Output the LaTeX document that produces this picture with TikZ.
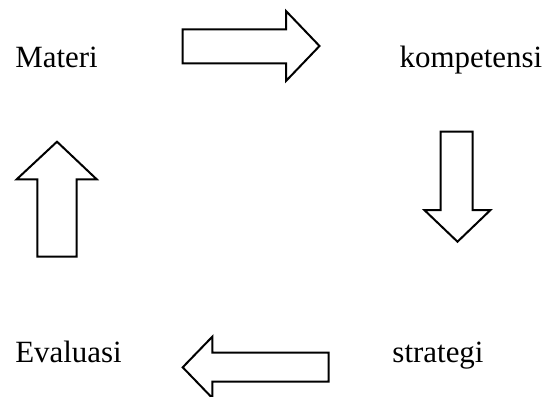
\documentclass[tikz,border=0pt]{standalone}
\usepackage{fontspec}
\setmainfont{Liberation Serif}
\tikzset{
  blockarrow/.style={line width=0.05cm, draw=black, fill=white, line join=miter},
  label/.style={anchor=base west, inner sep=0pt, font=\fontsize{22}{26}\selectfont}
}
\begin{document}
\begin{tikzpicture}[x=0.025cm,y=-0.025cm]
\clip (0,0) rectangle (546,396);
\fill[white] (0,0) rectangle (546,396);

% Drawing labels
\node[label] (materi) at (15,67.7) {Materi};
\node[label] (kompetensi) at (399.3,67.7) {kompetensi};
\node[label] (evaluasi) at (15,362.3) {Evaluasi};
\node[label] (strategi) at (392.2,362.3) {strategi};

% Drawing arrow Materi to kompetensi
\draw[blockarrow] (182.7,29.3) -- (286,29.3) -- (286,11) -- (319.5,46) -- (286,81) -- (286,63.3) -- (182.7,63.3) -- cycle;

% Drawing arrow kompetensi to strategi
\draw[blockarrow] (440.7,131.7) -- (472.7,131.7) -- (472.7,210) -- (490.5,210) -- (457.5,241.7) -- (424.3,210) -- (440.7,210) -- cycle;

% Drawing arrow strategi to Evaluasi
\draw[blockarrow] (328.5,352.7) -- (212.3,352.7) -- (212.3,336.7) -- (182.7,367.3) -- (212.3,398) -- (212.3,381.7) -- (328.5,381.7) -- cycle;

% Drawing arrow Evaluasi to Materi
\draw[blockarrow] (37.3,256.7) -- (37.3,179.3) -- (16.7,179.3) -- (57,141.7) -- (96.7,179.3) -- (76.7,179.3) -- (76.7,256.7) -- cycle;
\end{tikzpicture}
\end{document}
